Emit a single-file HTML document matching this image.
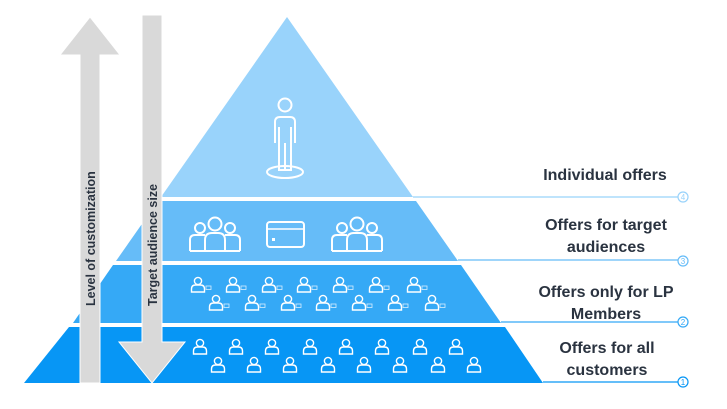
<!DOCTYPE html><html><head><style>html,body{margin:0;padding:0;background:#fff}svg{display:block}</style></head><body>
<svg width="727" height="409" viewBox="0 0 727 409" xmlns="http://www.w3.org/2000/svg">
<defs>
<g id="p" fill="none" stroke="#fff" stroke-width="1.4"><circle cx="0" cy="-4" r="3.6"/><path d="M-6.5 7 V4 Q-6.5 0 -2.5 0 H2.5 Q6.5 0 6.5 4 V7 Z"/></g>
<g id="pm"><use href="#p"/><rect x="8" y="1" width="5" height="3.5" fill="none" stroke="#fff" stroke-width="0.8" opacity="0.8"/></g>
<g id="grp" fill="none" stroke="#fff" stroke-width="2"><circle cx="-15" cy="-6" r="5"/><circle cx="15" cy="-6" r="5"/><circle cx="0" cy="-10" r="6.5"/><path d="M-25 17 V6 Q-25 1 -20 1 H-10 M25 17 V6 Q25 1 20 1 H10 M-25 17 H25"/><path d="M-10 17 V6 Q-10 -1 -3 -1 H3 Q10 -1 10 6 V17"/></g>
</defs>
<polygon points="287,17 413,197 161,197" fill="#99d3fb"/>
<polygon points="158,201 416,201 458,261 116,261" fill="#66bcf8"/>
<polygon points="113,265 461,265 501,323 73,323" fill="#35a9f6"/>
<polygon points="69,327 505,327 543,383 24,383" fill="#0796f5"/>
<g fill="none" stroke-width="1.2">
<line x1="413" y1="197" x2="678" y2="197" stroke="#99d3fb"/><circle cx="683" cy="197" r="5" stroke="#99d3fb"/>
<line x1="458" y1="260" x2="678" y2="260" stroke="#66bcf8"/><circle cx="683" cy="261" r="5" stroke="#66bcf8"/>
<line x1="501" y1="322" x2="678" y2="322" stroke="#35a9f6"/><circle cx="683" cy="322" r="5" stroke="#35a9f6"/>
<line x1="543" y1="382" x2="678" y2="382" stroke="#0796f5"/><circle cx="683" cy="382" r="5" stroke="#0796f5"/>
</g>
<g font-family="Liberation Sans,sans-serif" font-size="8" text-anchor="middle">
<text x="683" y="200" fill="#99d3fb">4</text><text x="683" y="264" fill="#66bcf8">3</text><text x="683" y="325" fill="#35a9f6">2</text><text x="683" y="385" fill="#0796f5">1</text>
</g>
<g fill="none" stroke="#fff" stroke-width="2">
<circle cx="285" cy="105" r="6.5"/>
<path d="M275 143 V122 Q275 117 280 117 H290 Q295 117 295 122 V143 M279 127 V170 H291 V127 M285 143 V170"/>
<ellipse cx="285" cy="172" rx="18" ry="6"/>
</g>
<use href="#grp" x="215" y="234"/>
<use href="#grp" x="357" y="234"/>
<rect x="267" y="222" width="37" height="25" rx="3" fill="none" stroke="#fff" stroke-width="2"/>
<line x1="267" y1="229" x2="304" y2="229" stroke="#fff" stroke-width="1.5"/>
<rect x="272" y="238" width="3" height="3" fill="#fff"/>
<g>
<use href="#pm" x="198" y="285"/><use href="#pm" x="233" y="285"/><use href="#pm" x="269" y="285"/><use href="#pm" x="304" y="285"/><use href="#pm" x="340" y="285"/><use href="#pm" x="376" y="285"/><use href="#pm" x="414" y="285"/>
<use href="#pm" x="216" y="303"/><use href="#pm" x="252" y="303"/><use href="#pm" x="288" y="303"/><use href="#pm" x="323" y="303"/><use href="#pm" x="359" y="303"/><use href="#pm" x="395" y="303"/><use href="#pm" x="432" y="303"/>
</g>
<g>
<use href="#p" x="200" y="347"/><use href="#p" x="236" y="347"/><use href="#p" x="272" y="347"/><use href="#p" x="310" y="347"/><use href="#p" x="346" y="347"/><use href="#p" x="382" y="347"/><use href="#p" x="420" y="347"/><use href="#p" x="456" y="347"/>
<use href="#p" x="218" y="365"/><use href="#p" x="254" y="365"/><use href="#p" x="290" y="365"/><use href="#p" x="328" y="365"/><use href="#p" x="364" y="365"/><use href="#p" x="400" y="365"/><use href="#p" x="438" y="365"/><use href="#p" x="474" y="365"/>
</g>
<polygon points="90,17 120,55 100,55 100,383 80,383 80,55 60,55" fill="#d9d9d9" stroke="#fff" stroke-width="1"/>
<polygon points="142,15 162,15 162,342 185,342 152,383 119,342 142,342" fill="#d9d9d9" stroke="#fff" stroke-width="1"/>
<g font-family="Liberation Sans,sans-serif" font-size="12.5" font-weight="bold" fill="#2a3340">
<text transform="translate(95,306) rotate(-90)">Level of customization</text>
<text transform="translate(157,306) rotate(-90)">Target audience size</text>
</g>
<g font-family="Liberation Sans,sans-serif" font-size="16" font-weight="bold" fill="#2a3340" text-anchor="middle">
<text x="605" y="180">Individual offers</text>
<text x="606" y="230">Offers for target</text><text x="606" y="252">audiences</text>
<text x="606" y="297">Offers only for LP</text><text x="606" y="319">Members</text>
<text x="607" y="353">Offers for all</text><text x="607" y="375">customers</text>
</g>
</svg>
</body></html>
